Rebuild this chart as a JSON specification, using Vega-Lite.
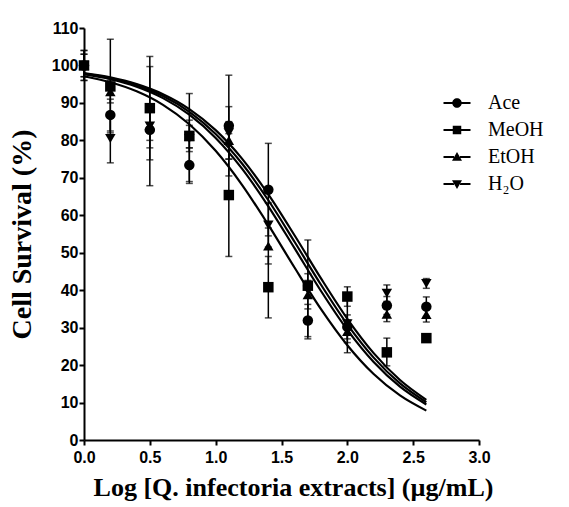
{
  "$schema": "https://vega.github.io/schema/vega-lite/v6.json",
  "autosize": {"type": "none"},
  "width": 395,
  "height": 412,
  "padding": {"left": 84, "top": 28, "right": 90, "bottom": 67},
  "background": "white",
  "datasets": {
    "pts": [
      {"series": "Ace", "x": 0, "y": 100, "lo": 96, "hi": 104},
      {"series": "Ace", "x": 0.2, "y": 86.8, "lo": 82.5, "hi": 91},
      {"series": "Ace", "x": 0.5, "y": 82.8, "lo": 78, "hi": 87.5},
      {"series": "Ace", "x": 0.8, "y": 73.4, "lo": 69, "hi": 78},
      {"series": "Ace", "x": 1.1, "y": 83.9, "lo": 70.5, "hi": 97.4},
      {"series": "Ace", "x": 1.4, "y": 66.8, "lo": 54.5, "hi": 79.2},
      {"series": "Ace", "x": 1.7, "y": 31.9, "lo": 27.6, "hi": 36.2},
      {"series": "Ace", "x": 2.0, "y": 30.2, "lo": 27, "hi": 33.4},
      {"series": "Ace", "x": 2.3, "y": 35.9, "lo": 33.5, "hi": 38.3},
      {"series": "Ace", "x": 2.6, "y": 35.6, "lo": 33, "hi": 38.2},
      {"series": "MeOH", "x": 0, "y": 100, "lo": 97, "hi": 103},
      {"series": "MeOH", "x": 0.2, "y": 94.4, "lo": 82, "hi": 107},
      {"series": "MeOH", "x": 0.5, "y": 88.6, "lo": 74.8, "hi": 102.4},
      {"series": "MeOH", "x": 0.8, "y": 81.2, "lo": 77, "hi": 85.4},
      {"series": "MeOH", "x": 1.1, "y": 65.4, "lo": 49, "hi": 81.8},
      {"series": "MeOH", "x": 1.4, "y": 40.8, "lo": 32.6, "hi": 49},
      {"series": "MeOH", "x": 1.7, "y": 41.2, "lo": 38, "hi": 44.4},
      {"series": "MeOH", "x": 2.0, "y": 38.3, "lo": 35.7, "hi": 40.9},
      {"series": "MeOH", "x": 2.3, "y": 23.4, "lo": 19.8, "hi": 27.2},
      {"series": "MeOH", "x": 2.6, "y": 27.2, "lo": 26.6, "hi": 27.8},
      {"series": "EtOH", "x": 0, "y": 100, "lo": 96, "hi": 104},
      {"series": "EtOH", "x": 0.2, "y": 93, "lo": 90, "hi": 96},
      {"series": "EtOH", "x": 0.5, "y": 84, "lo": 80, "hi": 88},
      {"series": "EtOH", "x": 0.8, "y": 81, "lo": 78, "hi": 84},
      {"series": "EtOH", "x": 1.1, "y": 80, "lo": 75, "hi": 85},
      {"series": "EtOH", "x": 1.4, "y": 51.8, "lo": 47, "hi": 56.6},
      {"series": "EtOH", "x": 1.7, "y": 38.8, "lo": 35, "hi": 42.6},
      {"series": "EtOH", "x": 2.0, "y": 29, "lo": 26, "hi": 32},
      {"series": "EtOH", "x": 2.3, "y": 33.6, "lo": 31.6, "hi": 35.6},
      {"series": "EtOH", "x": 2.6, "y": 33.5, "lo": 31.5, "hi": 35.5},
      {"series": "H₂O", "x": 0, "y": 100, "lo": 97, "hi": 103},
      {"series": "H₂O", "x": 0.2, "y": 80.5, "lo": 74, "hi": 87},
      {"series": "H₂O", "x": 0.5, "y": 83.8, "lo": 67.9, "hi": 99.7},
      {"series": "H₂O", "x": 0.8, "y": 80.5, "lo": 68.5, "hi": 92.5},
      {"series": "H₂O", "x": 1.1, "y": 82, "lo": 75, "hi": 89},
      {"series": "H₂O", "x": 1.4, "y": 57.4, "lo": 51.5, "hi": 63.3},
      {"series": "H₂O", "x": 1.7, "y": 40, "lo": 27, "hi": 53.4},
      {"series": "H₂O", "x": 2.0, "y": 31, "lo": 23.3, "hi": 38.7},
      {"series": "H₂O", "x": 2.3, "y": 39.2, "lo": 37, "hi": 41.4},
      {"series": "H₂O", "x": 2.6, "y": 41.8, "lo": 40.5, "hi": 43.1}
    ],
    "fit": [
      {"series": "Ace", "x": 0, "y": 97.95},
      {"series": "Ace", "x": 0.2, "y": 96.8},
      {"series": "Ace", "x": 0.4, "y": 95.01},
      {"series": "Ace", "x": 0.6, "y": 92.32},
      {"series": "Ace", "x": 0.8, "y": 88.35},
      {"series": "Ace", "x": 1.0, "y": 82.72},
      {"series": "Ace", "x": 1.2, "y": 75.12},
      {"series": "Ace", "x": 1.4, "y": 65.58},
      {"series": "Ace", "x": 1.6, "y": 54.59},
      {"series": "Ace", "x": 1.8, "y": 43.14},
      {"series": "Ace", "x": 2.0, "y": 32.37},
      {"series": "Ace", "x": 2.2, "y": 23.2},
      {"series": "Ace", "x": 2.4, "y": 16.01},
      {"series": "Ace", "x": 2.6, "y": 10.73},
      {"series": "H₂O", "x": 0, "y": 97.81},
      {"series": "H₂O", "x": 0.2, "y": 96.57},
      {"series": "H₂O", "x": 0.4, "y": 94.68},
      {"series": "H₂O", "x": 0.6, "y": 91.82},
      {"series": "H₂O", "x": 0.8, "y": 87.62},
      {"series": "H₂O", "x": 1.0, "y": 81.71},
      {"series": "H₂O", "x": 1.2, "y": 73.81},
      {"series": "H₂O", "x": 1.4, "y": 64.01},
      {"series": "H₂O", "x": 1.6, "y": 52.87},
      {"series": "H₂O", "x": 1.8, "y": 41.45},
      {"series": "H₂O", "x": 2.0, "y": 30.88},
      {"series": "H₂O", "x": 2.2, "y": 21.99},
      {"series": "H₂O", "x": 2.4, "y": 15.1},
      {"series": "H₂O", "x": 2.6, "y": 10.09},
      {"series": "EtOH", "x": 0, "y": 97.66},
      {"series": "EtOH", "x": 0.2, "y": 96.34},
      {"series": "EtOH", "x": 0.4, "y": 94.32},
      {"series": "EtOH", "x": 0.6, "y": 91.28},
      {"series": "EtOH", "x": 0.8, "y": 86.85},
      {"series": "EtOH", "x": 1.0, "y": 80.65},
      {"series": "EtOH", "x": 1.2, "y": 72.46},
      {"series": "EtOH", "x": 1.4, "y": 62.4},
      {"series": "EtOH", "x": 1.6, "y": 51.15},
      {"series": "EtOH", "x": 1.8, "y": 39.78},
      {"series": "EtOH", "x": 2.0, "y": 29.42},
      {"series": "EtOH", "x": 2.2, "y": 20.83},
      {"series": "EtOH", "x": 2.4, "y": 14.23},
      {"series": "EtOH", "x": 2.6, "y": 9.48},
      {"series": "MeOH", "x": 0, "y": 97.13},
      {"series": "MeOH", "x": 0.2, "y": 95.53},
      {"series": "MeOH", "x": 0.4, "y": 93.1},
      {"series": "MeOH", "x": 0.6, "y": 89.49},
      {"series": "MeOH", "x": 0.8, "y": 84.3},
      {"series": "MeOH", "x": 1.0, "y": 77.21},
      {"series": "MeOH", "x": 1.2, "y": 68.13},
      {"series": "MeOH", "x": 1.4, "y": 57.43},
      {"series": "MeOH", "x": 1.6, "y": 45.98},
      {"series": "MeOH", "x": 1.8, "y": 34.94},
      {"series": "MeOH", "x": 2.0, "y": 25.31},
      {"series": "MeOH", "x": 2.2, "y": 17.61},
      {"series": "MeOH", "x": 2.4, "y": 11.89},
      {"series": "MeOH", "x": 2.6, "y": 7.84}
    ]
  },
  "encoding": {
    "x": {
      "field": "x",
      "type": "quantitative",
      "scale": {"domain": [0, 3], "nice": false},
      "axis": {
        "title": "Log [Q. infectoria extracts] (µg/mL)",
        "values": [0, 0.5, 1, 1.5, 2, 2.5, 3],
        "format": ".1f",
        "labelFlush": false,
        "labelPadding": 4,
        "titlePadding": 9,
        "titleFontSize": 26,
        "titleX": 209
      }
    },
    "y": {
      "field": "y",
      "type": "quantitative",
      "scale": {"domain": [0, 110], "nice": false},
      "axis": {
        "title": "Cell Survival (%)",
        "values": [0, 10, 20, 30, 40, 50, 60, 70, 80, 90, 100, 110],
        "labelFlush": false,
        "labelPadding": 1,
        "titlePadding": 15
      }
    }
  },
  "layer": [
    {
      "mark": {"type": "rule", "color": "black", "strokeWidth": 2, "strokeDash": [2, 4]},
      "encoding": {"y": {"datum": 50}, "x": null}
    },
    {
      "data": {"name": "fit"},
      "mark": {"type": "line", "color": "black", "strokeWidth": 2.2, "interpolate": "monotone"},
      "encoding": {"detail": {"field": "series"}}
    },
    {
      "data": {"name": "pts"},
      "mark": {"type": "rule", "color": "black", "strokeWidth": 1.5},
      "encoding": {"y": {"field": "lo"}, "y2": {"field": "hi"}}
    },
    {
      "data": {"name": "pts"},
      "mark": {"type": "tick", "color": "black", "orient": "horizontal", "size": 7, "thickness": 1.5},
      "encoding": {"y": {"field": "lo"}}
    },
    {
      "data": {"name": "pts"},
      "mark": {"type": "tick", "color": "black", "orient": "horizontal", "size": 7, "thickness": 1.5},
      "encoding": {"y": {"field": "hi"}}
    },
    {
      "data": {"name": "pts"},
      "mark": {"type": "point", "filled": true, "color": "black", "opacity": 1, "size": 110},
      "encoding": {
        "shape": {
          "field": "series",
          "type": "nominal",
          "scale": {
            "domain": ["Ace", "MeOH", "EtOH", "H₂O"],
            "range": ["circle", "square", "triangle-up", "triangle-down"]
          },
          "legend": null
        }
      }
    },
    {
      "data": {"name": "pts"},
      "mark": {"type": "point", "filled": true, "color": "black", "opacity": 1, "size": 0},
      "encoding": {
        "shape": {
          "field": "series",
          "type": "nominal",
          "scale": {
            "domain": ["Ace", "MeOH", "EtOH", "H₂O"],
            "range": [
              "M-2.7,-0.22H-0.7V0.22H-2.7ZM0.7,-0.22H2.7V0.22H0.7ZM-0.95,0A0.95,0.95,0,1,1,0.95,0A0.95,0.95,0,1,1,-0.95,0Z",
              "M-2.7,-0.22H-0.8V0.22H-2.7ZM0.8,-0.22H2.7V0.22H0.8ZM-0.85,-0.85H0.85V0.85H-0.85Z",
              "M-2.7,-0.22H-0.6V0.22H-2.7ZM0.6,-0.22H2.7V0.22H0.6ZM0,-1L1,0.75H-1Z",
              "M-2.7,-0.22H-0.6V0.22H-2.7ZM0.6,-0.22H2.7V0.22H0.6ZM0,1L1,-0.75H-1Z"
            ]
          },
          "legend": {
            "title": null,
            "orient": "none",
            "legendX": 363,
            "legendY": 65,
            "symbolSize": 100,
            "symbolFillColor": "black",
            "symbolStrokeColor": "black",
            "symbolStrokeWidth": 0,
            "symbolOpacity": 1,
            "labelFont": "Liberation Serif",
            "labelFontSize": 20,
            "labelColor": "black",
            "labelOffset": 21,
            "rowPadding": 7,
            "encode": {
              "symbols": {
                "update": {
                  "fill": {"value": "black"},
                  "opacity": {"value": 1}
                }
              }
            }
          }
        }
      }
    }
  ],
  "resolve": {"scale": {"shape": "independent"}},
  "config": {
    "view": {"stroke": null},
    "axis": {
      "grid": false,
      "domainColor": "black",
      "domainWidth": 2,
      "tickColor": "black",
      "tickWidth": 2,
      "tickSize": 5,
      "labelFont": "Liberation Sans",
      "labelFontWeight": "bold",
      "labelFontSize": 16,
      "labelColor": "black",
      "titleFont": "Liberation Serif",
      "titleFontWeight": "bold",
      "titleFontSize": 28,
      "titleColor": "black"
    }
  }
}
